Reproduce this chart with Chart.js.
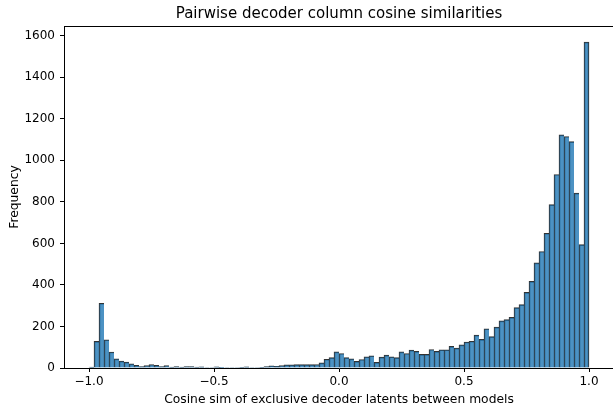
<!DOCTYPE html>
<html>
<head>
<meta charset="utf-8">
<script src="https://cdn.jsdelivr.net/npm/chart.js@4.4.1/dist/chart.umd.min.js"></script>
<style>
html, body { margin: 0; padding: 0; background: #fff; overflow: hidden; }
#wrap { width: 640px; height: 411px; }
</style>
</head>
<body>
<div id="wrap"><canvas id="hist" width="640" height="411"></canvas></div>
<script>
// histogram: 100 bins of width 0.02 from -1 to 1
var binMin = -1;
var binWidth = 0.02;
var counts = [
    4, 128, 312, 136, 77, 44, 33, 28, 20, 13,
    7, 12, 17, 13, 7, 12, 4, 7, 4, 7,
    7, 4, 6, 2, 2, 6, 1, 2, 2, 2,
    3, 6, 2, 2, 3, 7, 11, 8, 12, 15,
    15, 16, 16, 16, 16, 17, 25, 42, 50, 78,
    70, 50, 44, 32, 41, 54, 59, 27, 52, 62,
    54, 50, 78, 70, 86, 80, 66, 66, 89, 80,
    88, 88, 104, 96, 111, 125, 129, 158, 138, 189,
    151, 197, 227, 233, 244, 291, 305, 364, 417, 506,
    561, 649, 787, 932, 1123, 1115, 1090, 842, 594, 1569
];
var xTicks = [-1, -0.5, 0, 0.5, 1];
var yTicks = [0, 200, 400, 600, 800, 1000, 1200, 1400, 1600];

var points = counts.map((c, i) => ({ x: binMin + binWidth * (i + 0.5), y: c }));

// top spine (matplotlib box)
const frameTop = {
    id: 'frameTop',
    afterDraw(chart) {
        const { ctx, chartArea } = chart;
        ctx.save();
        ctx.strokeStyle = '#000';
        ctx.lineWidth = 1;
        ctx.beginPath();
        ctx.moveTo(chartArea.left, Math.round(chartArea.top) + 0.5);
        ctx.lineTo(chartArea.right, Math.round(chartArea.top) + 0.5);
        ctx.stroke();
        ctx.restore();
    }
};

function fmtX(v) {
    return (v < 0 ? '\u2212' : '') + Math.abs(v).toFixed(1);
}

const ctx = document.getElementById('hist').getContext('2d');
const chart = new Chart(ctx, {
    type: 'bar',
    data: {
        datasets: [{
            label: 'Frequency',
            data: points,
            backgroundColor: 'rgba(31,119,180,0.8)',
            borderColor: 'rgba(0,0,0,0.8)',
            borderWidth: (c) => c.dataIndex === counts.length - 1
                ? { left: 1, top: 1, right: 1, bottom: 0 }
                : { left: 1, top: 1, right: 0, bottom: 0 },
            borderSkipped: false,
            barPercentage: 1,
            categoryPercentage: 1,
        }],
    },
    options: {
        responsive: false,
        animation: false,
        devicePixelRatio: 1,
        layout: { padding: { left: 0, right: 26, top: 0, bottom: 0 } },
        plugins: {
            legend: { display: false },
            tooltip: { enabled: false },
            title: {
                display: true,
                text: 'Pairwise decoder column cosine similarities',
                fullSize: false,
                color: '#000',
                font: { family: 'DejaVu Sans', size: 15, weight: 'normal' },
                padding: { top: 5, bottom: 3 },
            },
        },
        scales: {
            x: {
                type: 'linear',
                offset: false,
                min: -1.1,
                max: 1.1,
                afterBuildTicks: (s) => { s.ticks = xTicks.map(v => ({ value: v })); },
                afterFit: (s) => { s.height = 43; },
                ticks: {
                    color: '#000',
                    font: { family: 'DejaVu Sans', size: 12 },
                    padding: 3,
                    maxRotation: 0,
                    callback: (v) => fmtX(v),
                },
                grid: { drawOnChartArea: false, drawTicks: true, tickLength: 4, color: '#000', offset: false },
                border: { display: true, color: '#000', width: 1 },
                title: {
                    display: true,
                    text: 'Cosine sim of exclusive decoder latents between models',
                    color: '#000',
                    font: { family: 'DejaVu Sans', size: 12.3 },
                    padding: { top: 2, bottom: 4 },
                },
            },
            y: {
                min: 0,
                max: 1647,
                afterBuildTicks: (s) => { s.ticks = yTicks.map(v => ({ value: v })); },
                afterFit: (s) => { s.width = 64; },
                ticks: {
                    color: '#000',
                    font: { family: 'DejaVu Sans', size: 12 },
                    padding: 5,
                    callback: (v) => String(v),
                },
                grid: { drawOnChartArea: false, drawTicks: true, tickLength: 4, color: '#000' },
                border: { display: true, color: '#000', width: 1 },
                title: {
                    display: true,
                    text: 'Frequency',
                    color: '#000',
                    font: { family: 'DejaVu Sans', size: 12.3 },
                    padding: { top: 7, bottom: 2 },
                },
            },
        },
    },
    plugins: [frameTop],
});
</script>
</body>
</html>
